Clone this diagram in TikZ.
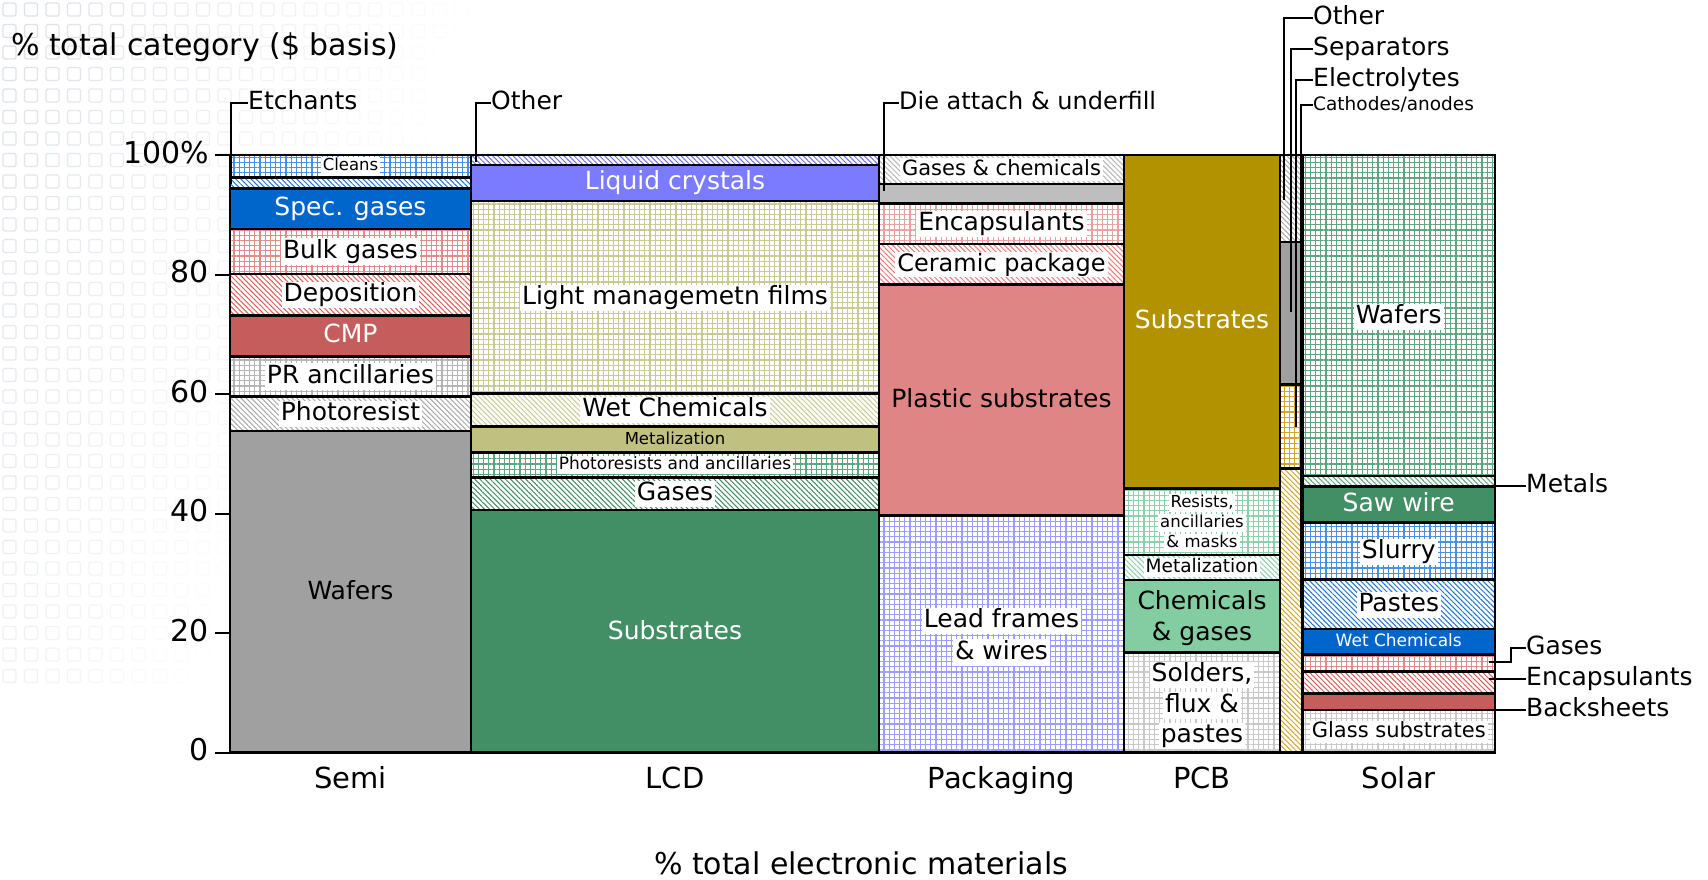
\documentclass[tikz,border=0pt]{standalone}
\usepackage{fontspec}
\setmainfont{DejaVu Sans}
\usetikzlibrary{patterns.meta}
\definecolor{cBlueL}{HTML}{4A90E2}
\definecolor{cBlueH}{HTML}{1F74D6}
\definecolor{cBlue}{HTML}{0066CC}
\definecolor{cRedL}{HTML}{E08A8A}
\definecolor{cRedH}{HTML}{E25B5B}
\definecolor{cRed}{HTML}{C65D5D}
\definecolor{cGrayL}{HTML}{B4B4B4}
\definecolor{cGrayH}{HTML}{A8A8A8}
\definecolor{cGray}{HTML}{A0A0A0}
\definecolor{cViolH}{HTML}{6F6FF2}
\definecolor{cViol}{HTML}{7B7BFF}
\definecolor{cOliveL}{HTML}{C9C996}
\definecolor{cOlive}{HTML}{C0C080}
\definecolor{cGreenL}{HTML}{5FA57F}
\definecolor{cGreenH}{HTML}{3E8C63}
\definecolor{cGreen}{HTML}{428F66}
\definecolor{cGrayH2}{HTML}{B8B8B8}
\definecolor{cGrayM}{HTML}{BEBEBE}
\definecolor{cPinkL}{HTML}{E9A0A0}
\definecolor{cPinkH}{HTML}{F07A7A}
\definecolor{cPink}{HTML}{DF8585}
\definecolor{cLav}{HTML}{9C9CFF}
\definecolor{cGold}{HTML}{B39200}
\definecolor{cMintL}{HTML}{8FD0AC}
\definecolor{cMint}{HTML}{84CCA2}
\definecolor{cGrayLL}{HTML}{C8C8C8}
\definecolor{cGoldL}{HTML}{D3A52A}
\definecolor{cWm}{HTML}{D6DBE3}
\tikzset{
  seg/.style={draw=black, line width=2.4pt},
  gridc/.style={seg, preaction={fill=white}, pattern={Hatch[distance=5.2pt, angle=0, line width=1.1pt]}, pattern color=#1},
  diag/.style={seg, preaction={fill=white}, pattern={Lines[distance=3.6pt, angle=-45, line width=1pt]}, pattern color=#1},
  sfill/.style={seg, fill=#1},
  wm/.style={draw=cWm, line width=1.4pt, rounded corners=1.5pt},
  leader/.style={draw=black, line width=2pt},
  f30/.style={font=\fontsize{30}{36}\selectfont, text height=22.8pt, text depth=6.3pt},
  f29/.style={font=\fontsize{29}{35}\selectfont, text height=22pt, text depth=6.1pt},
  f25/.style={font=\fontsize{25}{31}\selectfont, text height=19pt, text depth=5.3pt},
  f24/.style={font=\fontsize{24}{29}\selectfont, text height=18.2pt, text depth=5pt},
  f21/.style={font=\fontsize{21}{25}\selectfont, text height=16pt, text depth=4.4pt},
  f18/.style={font=\fontsize{18.5}{22}\selectfont, text height=14pt, text depth=3.9pt},
  f17/.style={font=\fontsize{17}{20}\selectfont, text height=12.9pt, text depth=3.6pt},
  f16/.style={font=\fontsize{16.5}{20}\selectfont, text height=12.5pt, text depth=3.5pt},
  lab/.style={fill=white, inner xsep=2pt, inner ysep=1pt},
  wlab/.style={text=white, inner sep=0pt},
  plab/.style={inner sep=0pt},
  tlab/.style={anchor=west, inner sep=0pt},
}
\begin{document}
\begin{tikzpicture}[x=1pt,y=-1pt]
\useasboundingbox (0,0) rectangle (1708,880);
\fill[white] (0,0) rectangle (1708,880);
% watermark
\foreach \i in {0,...,21}{\foreach \j in {0,...,31}{
  \pgfmathsetmacro\op{0.85*max(0,1-\i/(22-13*\j/31))*(1-0.55*\j/31)}
  \draw[wm,opacity=\op] ({3+21.5*\i},{3+21.5*\j}) rectangle ++(13,13);
}}
% ---------- Semi
\draw[gridc=cBlueL] (230,155) rectangle (471,177.5);
\draw[diag=cBlueH] (230,177.5) rectangle (471,188.5);
\draw[sfill=cBlue] (230,188.5) rectangle (471,229);
\draw[gridc=cRedL] (230,229) rectangle (471,274);
\draw[diag=cRedH] (230,274) rectangle (471,315.5);
\draw[sfill=cRed] (230,315.5) rectangle (471,356.5);
\draw[gridc=cGrayL] (230,356.5) rectangle (471,396.5);
\draw[diag=cGrayH] (230,396.5) rectangle (471,431);
\draw[sfill=cGray] (230,431) rectangle (471,752.5);
% ---------- LCD
\draw[diag=cViolH] (471,155) rectangle (879,165);
\draw[sfill=cViol] (471,165) rectangle (879,201);
\draw[gridc=cOliveL] (471,201) rectangle (879,393.5);
\draw[diag=cOliveL] (471,393.5) rectangle (879,426.5);
\draw[sfill=cOlive] (471,426.5) rectangle (879,452.5);
\draw[gridc=cGreenL] (471,452.5) rectangle (879,477.5);
\draw[diag=cGreenH] (471,477.5) rectangle (879,510);
\draw[sfill=cGreen] (471,510) rectangle (879,752.5);
% ---------- Packaging
\draw[diag=cGrayH2] (879,155) rectangle (1124,184);
\draw[sfill=cGrayM] (879,184) rectangle (1124,203.5);
\draw[gridc=cPinkL] (879,203.5) rectangle (1124,244);
\draw[diag=cPinkH] (879,244) rectangle (1124,284.5);
\draw[sfill=cPink] (879,284.5) rectangle (1124,515.5);
\draw[gridc=cLav] (879,515.5) rectangle (1124,752.5);
% ---------- PCB
\draw[sfill=cGold] (1124,155) rectangle (1280,488.5);
\draw[gridc=cMintL] (1124,488.5) rectangle (1280,555);
\draw[diag=cMintL] (1124,555) rectangle (1280,580);
\draw[sfill=cMint] (1124,580) rectangle (1280,652.5);
\draw[gridc=cGrayLL] (1124,652.5) rectangle (1280,752.5);
% ---------- Batteries strip
\draw[diag=cGrayH] (1280,155) rectangle (1302.5,242);
\draw[sfill=cGray] (1280,242) rectangle (1302.5,384.5);
\draw[gridc=cGoldL] (1280,384.5) rectangle (1302.5,468.5);
\draw[diag=cGoldL] (1280,468.5) rectangle (1302.5,752.5);
% ---------- Solar
\draw[gridc=cGreenL] (1302.5,155) rectangle (1495,476);
\draw[diag=cGreenL] (1302.5,476) rectangle (1495,486.5);
\draw[sfill=cGreen] (1302.5,486.5) rectangle (1495,522.5);
\draw[gridc=cBlueL] (1302.5,522.5) rectangle (1495,579.5);
\draw[diag=cBlueH] (1302.5,579.5) rectangle (1495,629);
\draw[sfill=cBlue] (1302.5,629) rectangle (1495,654.5);
\draw[gridc=cRedL] (1302.5,654.5) rectangle (1495,671.5);
\draw[diag=cRedH] (1302.5,671.5) rectangle (1495,693.5);
\draw[sfill=cRed] (1302.5,693.5) rectangle (1495,710);
\draw[gridc=cGrayLL] (1302.5,710) rectangle (1495,752.5);
% ---------- axes
\draw[leader] (230,752.5) -- (1495,752.5);
\foreach \v/\t in {752.5/0,633/20,513.5/40,394/60,274.5/80,155/100\%}{
  \draw[leader] (215,\v) -- (230,\v);
  \node[f30, anchor=east, inner sep=0pt] at (209,\v) {\t};
}
\node[f30, tlab] (ytitle) at (11,47) {\% total category (\$ basis)};
\node[f30, plab] (xtitle) at (861,866) {\% total electronic materials};
\node[f29, plab] (cSemi) at (350.5,781) {Semi};
\node[f29, plab] (cLCD) at (675,781) {LCD};
\node[f29, plab] (cPack) at (1001.5,781) {Packaging};
\node[f29, plab] (cPCB) at (1202,781) {PCB};
\node[f29, plab] (cSolar) at (1398.75,781) {Solar};
% ---------- leader lines and their labels
\node[f25, tlab] (lEtch) at (248,103) {Etchants};
\coordinate (pEtch) at (231,184);
\draw[leader] (pEtch) |- (lEtch.west);
\node[f25, tlab] (lOtherL) at (491,103) {Other};
\coordinate (pOtherL) at (476,162);
\draw[leader] (pOtherL) |- (lOtherL.west);
\node[f24, tlab] (lDie) at (899,103) {Die attach \& underfill};
\coordinate (pDie) at (883.5,191);
\draw[leader] (pDie) |- (lDie.west);
\node[f25, tlab] (lOtherB) at (1313,18) {Other};
\coordinate (pOtherB) at (1284,200);
\draw[leader] (pOtherB) |- (lOtherB.west);
\node[f25, tlab] (lSep) at (1313,49) {Separators};
\coordinate (pSep) at (1290.5,312);
\draw[leader] (pSep) |- (lSep.west);
\node[f25, tlab] (lElec) at (1313,80) {Electrolytes};
\coordinate (pElec) at (1295.5,427);
\draw[leader] (pElec) |- (lElec.west);
\node[f18, tlab] (lCath) at (1313,105) {Cathodes/anodes};
\coordinate (pCath) at (1300.5,608);
\draw[leader] (pCath) |- (lCath.west);
\node[f25, tlab] (lMetals) at (1526,486) {Metals};
\coordinate (pMetals) at (1489,486);
\draw[leader] (pMetals) -- (lMetals.west);
\node[f25, tlab] (lSGas) at (1526,648) {Gases};
\coordinate (pSGas) at (1489,662);
\draw[leader] (pSGas) -- ++(22,0) |- (lSGas.west);
\node[f25, tlab] (lSEnc) at (1526,679) {Encapsulants};
\coordinate (pSEnc) at (1489,679);
\draw[leader] (pSEnc) -- (lSEnc.west);
\node[f25, tlab] (lBack) at (1526,710) {Backsheets};
\coordinate (pBack) at (1489,710);
\draw[leader] (pBack) -- (lBack.west);
% ---------- Semi labels
\node[f16, lab] (tCleans) at (350.5,166.5) {Cleans};
\node[f25, wlab] (tSpec) at (350.5,208.5) {Spec. gases};
\node[f25, lab] (tBulk) at (350.5,251.5) {Bulk gases};
\node[f25, lab] (tDep) at (350.5,295) {Deposition};
\node[f25, wlab] (tCMP) at (350.5,336) {CMP};
\node[f25, lab] (tPRA) at (350.5,376.5) {PR ancillaries};
\node[f25, lab] (tPR) at (350.5,414) {Photoresist};
\node[f25, plab] (tWaf) at (350.5,593) {Wafers};
% ---------- LCD labels
\node[f25, wlab] (tLC) at (675,183) {Liquid crystals};
\node[f25, lab] (tLMF) at (675,298) {Light managemetn films};
\node[f25, lab] (tWet) at (675,410) {Wet Chemicals};
\node[f16, plab] (tMetL) at (675,439.5) {Metalization};
\node[f17, lab] (tPRL) at (675,465) {Photoresists and ancillaries};
\node[f25, lab] (tGasL) at (675,494) {Gases};
\node[f25, wlab] (tSubL) at (675,633) {Substrates};
% ---------- Packaging labels
\node[f21, lab] (tGC) at (1001.5,169.5) {Gases \& chemicals};
\node[f25, lab] (tEnc) at (1001.5,224) {Encapsulants};
\node[f24, lab] (tCer) at (1001.5,264.5) {Ceramic package};
\node[f25, plab] (tPlas) at (1001.5,401) {Plastic substrates};
\node[f25, lab] (tLead1) at (1001.5,621) {Lead frames};
\node[f25, lab] (tLead2) at (1001.5,652.5) {\& wires};
% ---------- PCB labels
\node[f25, wlab] (tSubP) at (1202,322) {Substrates};
\node[f16, lab] (tRes1) at (1202,503) {Resists,};
\node[f16, lab] (tRes2) at (1202,522.5) {ancillaries};
\node[f16, lab] (tRes3) at (1202,542.5) {\& masks};
\node[f18, lab] (tMetP) at (1202,567.5) {Metalization};
\node[f25, plab] (tChem1) at (1202,602.5) {Chemicals};
\node[f25, plab] (tChem2) at (1202,633.5) {\& gases};
\node[f25, lab] (tSol1) at (1202,675) {Solders,};
\node[f25, lab] (tSol2) at (1202,705.5) {flux \&};
\node[f25, lab] (tSol3) at (1202,736) {pastes};
% ---------- Solar labels
\node[f25, lab] (tWafS) at (1398.75,317) {Wafers};
\node[f25, wlab] (tSaw) at (1398.75,505) {Saw wire};
\node[f25, lab] (tSlur) at (1398.75,552) {Slurry};
\node[f25, lab] (tPast) at (1398.75,605) {Pastes};
\node[f17, wlab] (tWetS) at (1398.75,642) {Wet Chemicals};
\node[f21, lab] (tGlass) at (1398.75,732) {Glass substrates};
\end{tikzpicture}
\end{document}
